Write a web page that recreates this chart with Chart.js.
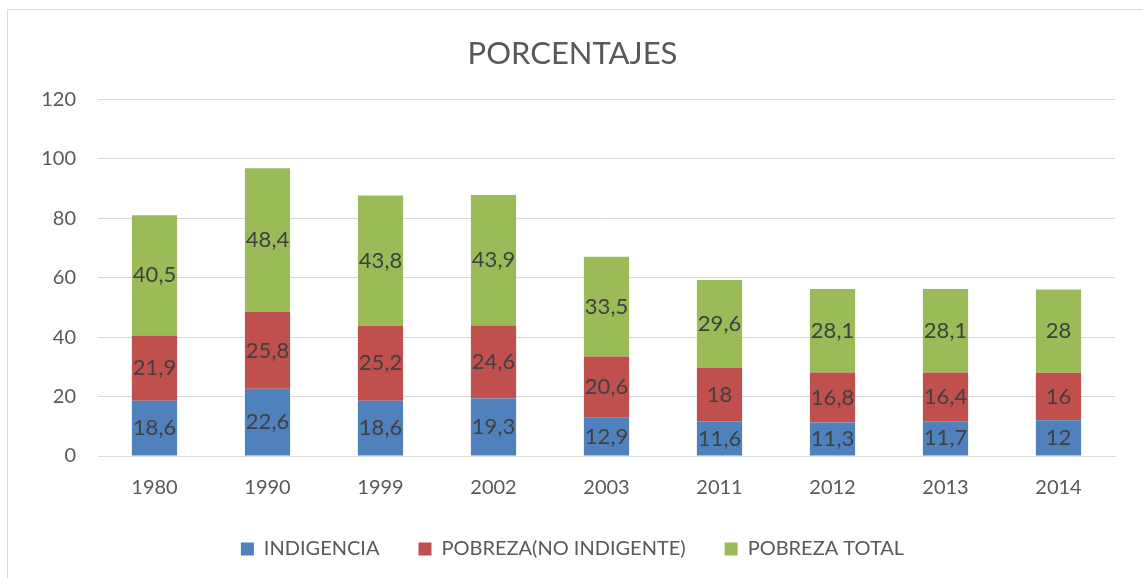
<!DOCTYPE html>
<html>
<head>
<meta charset="utf-8">
<script src="https://cdn.jsdelivr.net/npm/chart.js@4/dist/chart.umd.min.js"></script>
<style>
  html, body { margin: 0; padding: 0; background: #fff; }
  #frame {
    position: absolute; left: 7px; top: 9px; width: 1150px; height: 580px;
    border: 1px solid #d9d9d9; box-sizing: border-box;
  }
  #wrap { position: absolute; left: 0; top: 0; width: 1143px; height: 578px; }
</style>
</head>
<body>
<div id="frame"></div>
<div id="wrap"><canvas id="chartPorcentajes"></canvas></div>
<script>
// Datos
const years = ['1980', '1990', '1999', '2002', '2003', '2011', '2012', '2013', '2014'];
const indigencia = [18.6, 22.6, 18.6, 19.3, 12.9, 11.6, 11.3, 11.7, 12];
const pobrezaNoIndigente = [21.9, 25.8, 25.2, 24.6, 20.6, 18, 16.8, 16.4, 16];
const pobrezaTotal = [40.5, 48.4, 43.8, 43.9, 33.5, 29.6, 28.1, 28.1, 28];
const yTicks = [0, 20, 40, 60, 80, 100, 120];

const FONT = 'Lato, "Open Sans", sans-serif';

// Etiquetas de valor dentro de cada segmento
const valueLabels = {
  id: 'valueLabels',
  afterDatasetsDraw(chart) {
    const ctx = chart.ctx;
    ctx.save();
    ctx.font = '22px ' + FONT;
    ctx.fillStyle = '#404040';
    ctx.textAlign = 'center';
    ctx.textBaseline = 'middle';
    chart.data.datasets.forEach((ds, i) => {
      chart.getDatasetMeta(i).data.forEach((bar, j) => {
        const txt = String(ds.data[j]).replace('.', ',');
        ctx.fillText(txt, bar.x, (bar.y + bar.base) / 2);
      });
    });
    ctx.restore();
  }
};

// Por si acaso: ampliar el área de recorte de las etiquetas del eje X
const unclipX = {
  id: 'unclipX',
  afterLayout(chart) {
    chart.scales.x.bottom += 10;
  }
};

const ctx = document.getElementById('chartPorcentajes').getContext('2d');
new Chart(ctx, {
  type: 'bar',
  data: {
    labels: years,
    datasets: [
      { label: 'INDIGENCIA', data: indigencia, backgroundColor: '#4F81BD' },
      { label: 'POBREZA(NO INDIGENTE)', data: pobrezaNoIndigente, backgroundColor: '#C0504D' },
      { label: 'POBREZA TOTAL', data: pobrezaTotal, backgroundColor: '#9BBB59' }
    ]
  },
  options: {
    responsive: true,
    maintainAspectRatio: false,
    animation: false,
    datasets: { bar: { categoryPercentage: 0.8, barPercentage: 0.5 } },
    layout: { padding: { left: 30, right: 28, top: 20, bottom: 9 } },
    scales: {
      x: {
        stacked: true,
        grid: { display: false },
        border: { color: '#d9d9d9' },
        afterFit: scale => { scale.height = 44; },
        ticks: { color: '#595959', font: { family: FONT, size: 20 }, padding: 12 }
      },
      y: {
        stacked: true,
        min: 0,
        max: 120,
        afterBuildTicks: scale => { scale.ticks = yTicks.map(v => ({ value: v })); },
        afterFit: scale => { scale.width = 68; },
        grid: { color: '#d9d9d9', drawTicks: false },
        border: { display: false },
        ticks: { color: '#595959', font: { family: FONT, size: 20 }, padding: 22 }
      }
    },
    plugins: {
      title: {
        display: true,
        text: 'PORCENTAJES',
        color: '#595959',
        font: { family: FONT, size: 31, weight: 'normal' },
        padding: { top: 15, bottom: 27 }
      },
      legend: {
        position: 'bottom',
        labels: {
          color: '#595959',
          font: { family: FONT, size: 20 },
          boxWidth: 13,
          boxHeight: 13,
          padding: 39
        }
      },
      tooltip: { enabled: false }
    }
  },
  plugins: [valueLabels, unclipX]
});
</script>
</body>
</html>
